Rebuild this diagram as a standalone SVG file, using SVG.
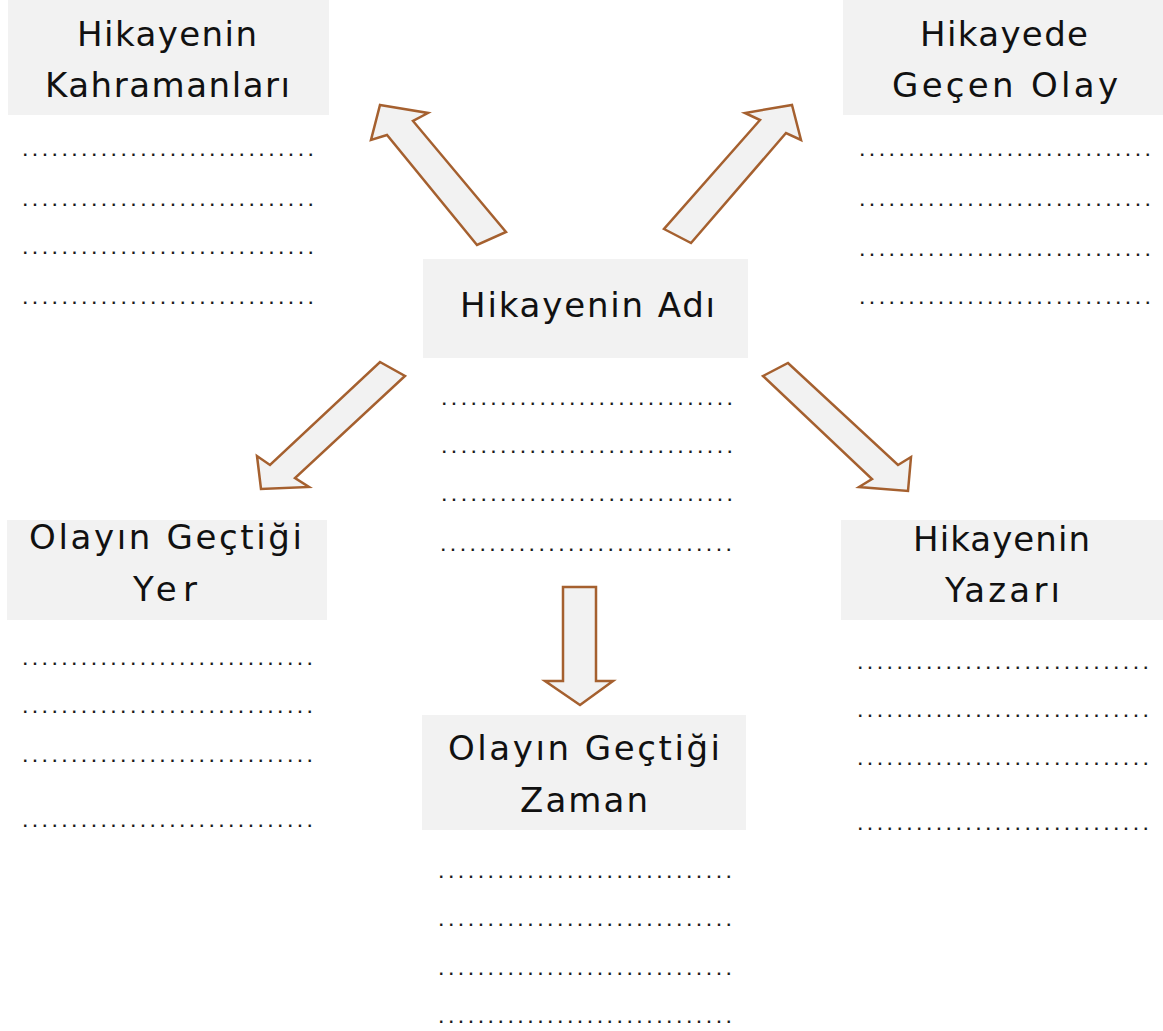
<svg xmlns="http://www.w3.org/2000/svg" width="1163" height="1031" viewBox="0 0 1163 1031">
<style>
.box{fill:#f2f2f2}
.t{font-family:"DejaVu Sans","Liberation Sans",sans-serif;font-size:34px;fill:#111}
.d{font-family:"Liberation Sans",Arial,sans-serif;font-size:16px;font-weight:bold;fill:#1a1a1a}
.arr{fill:#f2f2f2;stroke:#a5602f;stroke-width:2.5;stroke-linejoin:miter}
</style>
<rect width="1163" height="1031" fill="#fff"/>
<g id="kahramanlar">
<rect class="box" x="8" y="0" width="321" height="115"/>
<text class="t" x="77" y="46" textLength="180" lengthAdjust="spacing">Hikayenin</text>
<text class="t" x="45" y="97" textLength="245" lengthAdjust="spacing">Kahramanları</text>
<text class="d" x="23" y="156" textLength="290" lengthAdjust="spacing">..............................</text>
<text class="d" x="23" y="206" textLength="290" lengthAdjust="spacing">..............................</text>
<text class="d" x="23" y="254" textLength="290" lengthAdjust="spacing">..............................</text>
<text class="d" x="23" y="304" textLength="290" lengthAdjust="spacing">..............................</text>
</g>
<g id="olay">
<rect class="box" x="843" y="0" width="320" height="115"/>
<text class="t" x="920" y="46" textLength="168" lengthAdjust="spacing">Hikayede</text>
<text class="t" x="892" y="97" textLength="226" lengthAdjust="spacing">Geçen Olay</text>
<text class="d" x="860" y="156" textLength="290" lengthAdjust="spacing">..............................</text>
<text class="d" x="860" y="206" textLength="290" lengthAdjust="spacing">..............................</text>
<text class="d" x="860" y="256" textLength="290" lengthAdjust="spacing">..............................</text>
<text class="d" x="860" y="304" textLength="290" lengthAdjust="spacing">..............................</text>
</g>
<g id="ad">
<rect class="box" x="423" y="259" width="325" height="99"/>
<text class="t" x="460" y="317" textLength="255" lengthAdjust="spacing">Hikayenin Adı</text>
<text class="d" x="442" y="405" textLength="290" lengthAdjust="spacing">..............................</text>
<text class="d" x="442" y="453" textLength="290" lengthAdjust="spacing">..............................</text>
<text class="d" x="442" y="501" textLength="290" lengthAdjust="spacing">..............................</text>
<text class="d" x="441" y="551" textLength="290" lengthAdjust="spacing">..............................</text>
</g>
<g id="yer">
<rect class="box" x="7" y="520" width="320" height="100"/>
<text class="t" x="29" y="549" textLength="273" lengthAdjust="spacing">Olayın Geçtiği</text>
<text class="t" x="133" y="601" textLength="64" lengthAdjust="spacing">Yer</text>
<text class="d" x="23" y="665" textLength="289" lengthAdjust="spacing">..............................</text>
<text class="d" x="23" y="713" textLength="289" lengthAdjust="spacing">..............................</text>
<text class="d" x="23" y="762" textLength="289" lengthAdjust="spacing">..............................</text>
<text class="d" x="23" y="827" textLength="289" lengthAdjust="spacing">..............................</text>
</g>
<g id="zaman">
<rect class="box" x="422" y="715" width="324" height="115"/>
<text class="t" x="448" y="760" textLength="272" lengthAdjust="spacing">Olayın Geçtiği</text>
<text class="t" x="520" y="812" textLength="128" lengthAdjust="spacing">Zaman</text>
<text class="d" x="439" y="878" textLength="292" lengthAdjust="spacing">..............................</text>
<text class="d" x="439" y="926" textLength="292" lengthAdjust="spacing">..............................</text>
<text class="d" x="439" y="975" textLength="292" lengthAdjust="spacing">..............................</text>
<text class="d" x="439" y="1023" textLength="292" lengthAdjust="spacing">..............................</text>
</g>
<g id="yazar">
<rect class="box" x="841" y="520" width="322" height="100"/>
<text class="t" x="913" y="551" textLength="177" lengthAdjust="spacing">Hikayenin</text>
<text class="t" x="945" y="602" textLength="115" lengthAdjust="spacing">Yazarı</text>
<text class="d" x="858" y="669" textLength="290" lengthAdjust="spacing">..............................</text>
<text class="d" x="858" y="717" textLength="290" lengthAdjust="spacing">..............................</text>
<text class="d" x="858" y="765" textLength="290" lengthAdjust="spacing">..............................</text>
<text class="d" x="858" y="830" textLength="290" lengthAdjust="spacing">..............................</text>
</g>
<g id="connectors">
<polygon class="arr" points="380,105 428,113 413,121 506,232 477,245 387,135 371,140"/>
<polygon class="arr" points="792,105 801,140 786,133 691,243 664,229 760,120 745,113"/>
<polygon class="arr" points="380,362 405,376 295,478 309,487 261,489 257,456 270,465"/>
<polygon class="arr" points="763,376 788,363 898,465 911,457 908,491 859,487 872,479"/>
<polygon class="arr" points="563,587 596,587 596,681 613,681 580,705 545,681 563,681"/>
</g>
</svg>
